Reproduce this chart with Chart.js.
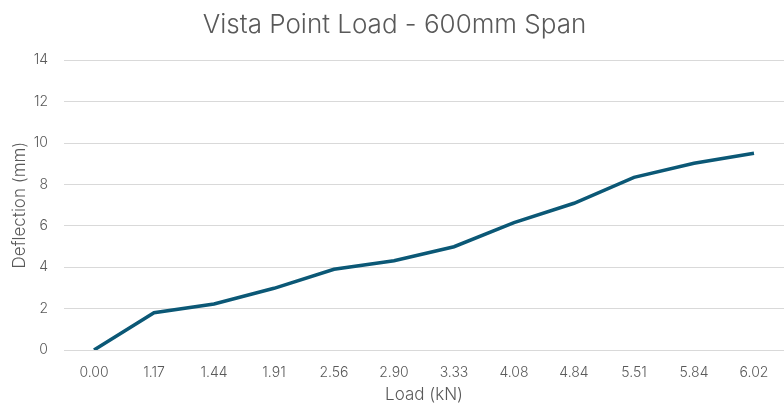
<!DOCTYPE html>
<html>
<head>
<meta charset="utf-8">
<script src="https://cdn.jsdelivr.net/npm/chart.js@4"></script>
<style>
  html, body { margin: 0; padding: 0; background: #fff; }
  #wrap { width: 784px; height: 403px; }
</style>
</head>
<body>
<div id="wrap"><canvas id="chart"></canvas></div>
<script>
const loads = ['0.00', '1.17', '1.44', '1.91', '2.56', '2.90', '3.33', '4.08', '4.84', '5.51', '5.84', '6.02'];
const deflection = [0, 1.80, 2.22, 2.98, 3.90, 4.31, 4.99, 6.15, 7.09, 8.34, 9.02, 9.50];
const yTicks = [0, 2, 4, 6, 8, 10, 12, 14];

const textColor = '#595959';
const fontFamily = 'Inter, "Noto Sans", sans-serif';

new Chart(document.getElementById('chart'), {
  type: 'line',
  data: {
    labels: loads,
    datasets: [{
      label: 'Deflection',
      data: deflection,
      borderColor: '#0b5876',
      borderWidth: 3.5,
      pointRadius: 0,
      tension: 0,
      fill: false
    }]
  },
  options: {
    responsive: true,
    maintainAspectRatio: false,
    animation: false,
    layout: { padding: { top: 0, right: -5, bottom: -2, left: 0 } },
    plugins: {
      legend: { display: false },
      tooltip: { enabled: false },
      title: {
        display: true,
        text: 'Vista Point Load - 600mm Span',
        color: textColor,
        font: { family: fontFamily, size: 26, weight: '300' },
        padding: { top: 10, bottom: 19 }
      }
    },
    scales: {
      x: {
        offset: true,
        afterFit: axis => { axis.height = 55; },
        grid: { display: false },
        border: { display: false },
        ticks: { color: textColor, font: { family: fontFamily, size: 14, weight: '300' }, padding: 6, maxRotation: 0 },
        title: { display: true, text: 'Load (kN)', color: textColor, font: { family: fontFamily, size: 17, weight: '300' }, padding: { top: 0, bottom: 0 } }
      },
      y: {
        min: 0,
        max: 14,
        afterFit: axis => { axis.width = 64; },
        afterBuildTicks: axis => { axis.ticks = yTicks.map(v => ({ value: v })); },
        grid: { color: '#d9d9d9', lineWidth: 1, drawTicks: false },
        border: { display: false },
        ticks: { color: textColor, font: { family: fontFamily, size: 14, weight: '300' }, padding: 16 },
        title: { display: true, text: 'Deflection (mm)', color: textColor, font: { family: fontFamily, size: 17, weight: '300' }, padding: { top: 10, bottom: 0 } }
      }
    }
  }
});
</script>
</body>
</html>
